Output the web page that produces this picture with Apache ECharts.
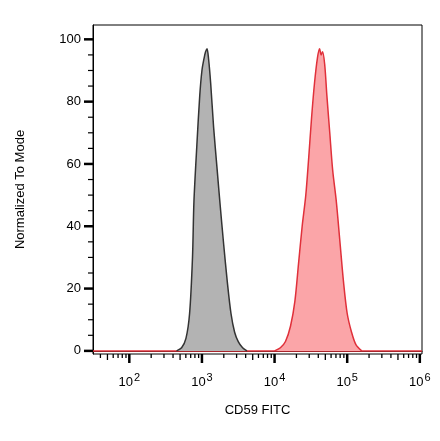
<!DOCTYPE html>
<html>
<head>
<meta charset="utf-8">
<script src="https://cdn.jsdelivr.net/npm/echarts@6/dist/echarts.min.js"></script>
<style>html,body{margin:0;background:#fff}#c{width:440px;height:441px}</style>
</head>
<body>
<div id="c"></div>
<script>
// x values are log10 of CD59 FITC intensity
var isoX = [2.65,2.72,2.78,2.83,2.87,2.89,2.93,2.97,3.00,3.03,3.05,3.07,3.09,3.12,3.16,3.21,3.25,3.30,3.35,3.40,3.45,3.50,3.56,3.62];
var isoY = [0,1,4,12,30,48,66,82,90,94,96,97,94,86,72,58,47,34,22,12,6,3,1,0];
var cdX = [4.00,4.08,4.15,4.22,4.28,4.33,4.38,4.43,4.47,4.51,4.55,4.59,4.62,4.64,4.66,4.69,4.72,4.76,4.80,4.85,4.90,4.95,5.00,5.06,5.12,5.20];
var cdY = [0,1,3,8,16,28,40,50,62,75,86,94,97,95,96,92,82,70,58,48,35,22,12,6,2,0];
var xTicks = [2,3,4,5,6];

function pairs(xs, ys){ return xs.map(function(x,i){ return [x, ys[i]]; }); }

// minor log ticks between decades
var minorTicks = [];
for (var d = 1; d < 6; d++) for (var k = 2; k < 10; k++) {
  var v = d + Math.log10(k);
  if (v > 1.5 && v < 6.05) minorTicks.push([v, k === 5 ? 1 : 0]);
}

var chart = echarts.init(document.getElementById('c'));
chart.setOption({
  animation: false,
  grid: {left: 93, right: 18, top: 25, bottom: 87},
  xAxis: {
    type: 'value', min: 1.5, max: 6.03, interval: 0.5,
    name: 'CD59 FITC', nameLocation: 'middle', nameGap: 50,
    nameTextStyle: {color: '#000', fontSize: 13, fontFamily: 'Liberation Sans'},
    axisLine: {show: true, lineStyle: {color: '#000'}},
    axisTick: {show: false}, splitLine: {show: false},
    axisLabel: {
      margin: 18, color: '#000', fontFamily: 'Liberation Sans',
      formatter: function(v){ return xTicks.indexOf(v) >= 0 ? '10{s|' + v + '}' : ''; },
      rich: {s: {fontSize: 11, verticalAlign: 'top', padding: [0,0,10,1], fontFamily: 'Liberation Sans'}},
      fontSize: 13
    }
  },
  yAxis: {
    type: 'value', min: -1, max: 104.6,
    name: 'Normalized To Mode', nameLocation: 'middle', nameGap: 66,
    nameTextStyle: {color: '#000', fontSize: 13, fontFamily: 'Liberation Sans'},
    axisLine: {show: true, lineStyle: {color: '#000'}},
    axisTick: {show: false}, splitLine: {show: false},
    axisLabel: {show: false}
  },
  series: [
    { type: 'line', data: pairs(isoX, isoY), symbol: 'none', smooth: 0.3,
      lineStyle: {color: '#333', width: 1.5}, areaStyle: {color: '#b3b3b3', opacity: 1} },
    { type: 'line', data: pairs(cdX, cdY), symbol: 'none', smooth: 0.3,
      lineStyle: {color: '#e0303a', width: 1.5}, areaStyle: {color: '#fba5a8', opacity: 1} },
    { // red baseline
      type: 'line', data: [[1.5,0],[6.03,0]], symbol: 'none', z: 1,
      lineStyle: {color: '#e0303a', width: 1.5} },
    { // x ticks
      type: 'custom', silent: true, clip: false,
      data: minorTicks.concat(xTicks.map(function(t){ return [t, 2]; })),
      renderItem: function(params, api){
        var p = api.coord([api.value(0), -1]);
        var len = [4, 6, 9][api.value(1)];
        var w = api.value(1) === 2 ? 2.5 : 1.3;
        return {type: 'line', shape: {x1: p[0], y1: p[1], x2: p[0], y2: p[1] + len}, style: {stroke: '#000', lineWidth: w}};
      }
    },
    { // y ticks and labels
      type: 'custom', silent: true, clip: false,
      data: [0,5,10,15,20,25,30,35,40,45,50,55,60,65,70,75,80,85,90,95,100].map(function(v){ return [v]; }),
      renderItem: function(params, api){
        var v = api.value(0);
        var p = api.coord([1.5, v]);
        var major = v % 20 === 0;
        var ch = [{type: 'line', shape: {x1: p[0] - (major ? 9 : 5), y1: p[1], x2: p[0], y2: p[1]},
                   style: {stroke: '#000', lineWidth: major ? 2.5 : 1.2}}];
        if (major) ch.push({type: 'text', style: {text: String(v), x: p[0] - 12, y: p[1], align: 'right', verticalAlign: 'middle', fill: '#000', font: '13px Liberation Sans'}});
        return {type: 'group', children: ch};
      }
    }
  ],
  graphic: [{type: 'rect', shape: {x: 93, y: 25, width: 329, height: 329}, style: {fill: 'none', stroke: '#000', lineWidth: 1}, silent: true}]
});
</script>
</body>
</html>
